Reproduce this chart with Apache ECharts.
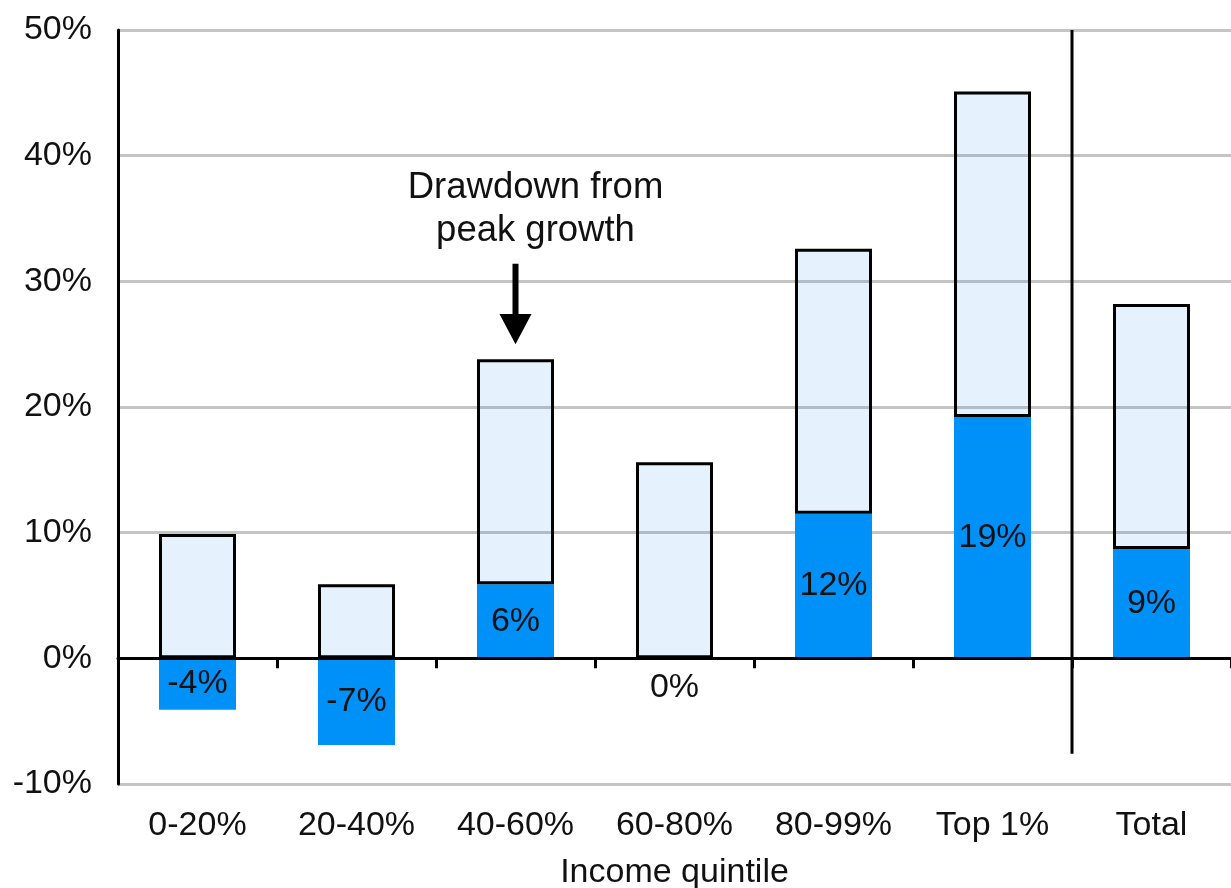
<!DOCTYPE html>
<html>
<head>
<meta charset="utf-8">
<script src="https://cdn.jsdelivr.net/npm/echarts@6/dist/echarts.min.js"></script>
<style>
html,body{margin:0;padding:0;background:#fff;}
#chart{width:1231px;height:888px;}
</style>
</head>
<body>
<div id="chart"></div>
<script>
const categories = ['0-20%', '20-40%', '40-60%', '60-80%', '80-99%', 'Top 1%', 'Total'];
const peakGrowth = [9.9, 5.9, 23.8, 15.6, 32.6, 45.1, 28.2];
const currentGrowth = [-4.1, -6.9, 5.9, 0, 11.5, 19.2, 8.7];
const yMin = -10, yMax = 50, yStep = 10;
const xAxisName = 'Income quintile';
const annotationLines = ['Drawdown from', 'peak growth'];

const drawdown = peakGrowth.map((p, i) => +(p - Math.max(currentGrowth[i], 0)).toFixed(2));
const FONT = '"Liberation Sans", Arial, sans-serif';
const DARK = '#0091f8';
const LIGHT = 'rgba(0,125,235,0.1)';

const chart = echarts.init(document.getElementById('chart'), null, {renderer: 'canvas'});

const currentData = currentGrowth.map(v => {
  if (v === 0) {
    return {value: v, label: {position: 'bottom', distance: 12}};
  }
  return v;
});

chart.setOption({
  animation: false,
  backgroundColor: '#fff',
  grid: {left: 118, right: 0, top: 30, bottom: 104, containLabel: false, outerBoundsMode: 'none'},
  xAxis: [
    {
      type: 'category',
      data: categories,
      position: 'bottom',
      axisLine: {show: false},
      axisTick: {show: false},
      axisLabel: {color: '#111', fontSize: 34, fontFamily: FONT, margin: 25},
      name: xAxisName,
      nameLocation: 'middle',
      nameGap: 72,
      nameTextStyle: {color: '#111', fontSize: 34, fontFamily: FONT}
    },
    {
      type: 'category',
      data: categories,
      position: 'bottom',
      z: 10,
      axisLine: {show: true, onZero: true, onZeroAxisIndex: 0, lineStyle: {color: '#000', width: 3}},
      axisTick: {show: true, length: 10, lineStyle: {color: '#000', width: 3}},
      axisLabel: {show: false}
    }
  ],
  yAxis: {
    type: 'value',
    min: yMin,
    max: yMax,
    interval: yStep,
    axisLine: {show: true, lineStyle: {color: '#000', width: 3}},
    axisTick: {show: false},
    axisLabel: {color: '#111', fontSize: 34, fontFamily: FONT, margin: 26, formatter: v => v + '%'},
    splitLine: {show: true, lineStyle: {color: '#c4c4c4', width: 3}}
  },
  series: [
    {
      type: 'bar',
      name: 'Current',
      stack: 'g',
      data: currentData,
      barWidth: 77,
      itemStyle: {color: DARK},
      label: {
        show: true,
        position: 'inside',
        color: '#111',
        fontSize: 34,
        fontFamily: FONT,
        formatter: p => Math.round(p.value) + '%'
      },
      z: 2
    },
    {
      type: 'bar',
      name: 'Drawdown',
      stack: 'g',
      data: drawdown,
      barWidth: 77,
      itemStyle: {color: LIGHT, borderColor: '#000', borderWidth: 3},
      z: 3
    }
  ]
});

function px(cat, val) {
  return chart.convertToPixel({xAxisIndex: 0, yAxisIndex: 0}, [cat, val]);
}

const sepTop = px('Top 1%', yMax);
const sepA = px('Top 1%', -7.6);
const sepB = px('Total', -7.6);
const sepX = (sepA[0] + sepB[0]) / 2;

const aTop = px('40-60%', 31.4);
const aHead = px('40-60%', 27.4);
const aTip = px('40-60%', 25.0);
const t1 = px('40-60%', 37.4);
const t2 = px('40-60%', 34.0);

chart.setOption({
  graphic: [
    {
      type: 'line', z: 20,
      shape: {x1: sepX, y1: sepTop[1], x2: sepX, y2: sepA[1]},
      style: {stroke: '#000', lineWidth: 3}
    },
    {
      type: 'line', z: 20,
      shape: {x1: aTop[0], y1: aTop[1], x2: aTop[0], y2: aHead[1] + 2},
      style: {stroke: '#000', lineWidth: 6}
    },
    {
      type: 'polygon', z: 20,
      shape: {points: [[aHead[0] - 16, aHead[1]], [aHead[0] + 16, aHead[1]], [aTip[0], aTip[1]]]},
      style: {fill: '#000'}
    },
    {
      type: 'text', z: 20,
      x: t1[0] + 20, y: t1[1],
      style: {text: annotationLines[0], fill: '#111', font: '36.5px ' + FONT, align: 'center', verticalAlign: 'middle'}
    },
    {
      type: 'text', z: 20,
      x: t2[0] + 20, y: t2[1],
      style: {text: annotationLines[1], fill: '#111', font: '36.5px ' + FONT, align: 'center', verticalAlign: 'middle'}
    }
  ]
});
</script>
</body>
</html>
